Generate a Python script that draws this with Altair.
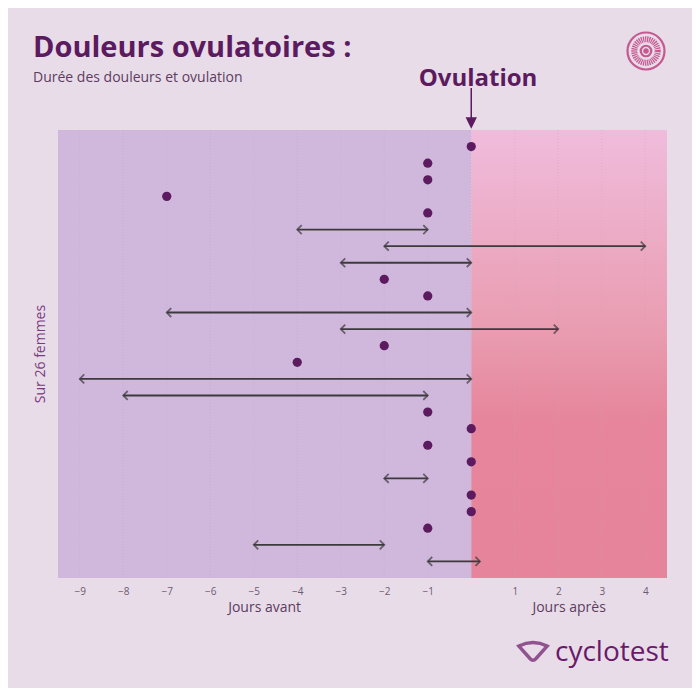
import altair as alt
import pandas as pd

# ---- data ----
rows = list(range(1, 27))
starts = [0, -1, -1, -7, -1, -4, -2, -3, -2, -1, -7, -3, -2, -4, -9, -8, -1, 0, -1, 0, -2, 0, 0, -1, -5, -1]
ends = [0, -1, -1, -7, -1, -1, 4, 0, -2, -1, 0, 2, -2, -4, 0, -1, -1, 0, -1, 0, -1, 0, 0, -1, -2, 0.2]
tick_values = [-9, -8, -7, -6, -5, -4, -3, -2, -1, 1, 2, 3, 4]
grid_values = list(range(-9, 5))

df = pd.DataFrame({"row": rows, "start": starts, "end": ends})
pts = df[df.start == df.end]
arr = df[df.start != df.end]

W, H = 609, 448
XDOM = [-9.5, 4.5]
xs = alt.Scale(domain=XDOM, nice=False, zero=False)
ys = alt.Scale(domain=[0, 27], reverse=True, nice=False, zero=False)

DARK = "#5c1a5f"
TEXT = "#5d3c60"
FONT = "Open Sans"
LOGO = "#b8236c"

bg = pd.DataFrame({"x0": [-9.5], "x1": [0.0]})
bg2 = pd.DataFrame({"x0": [0.0], "x1": [4.5]})

left_rect = alt.Chart(bg).mark_rect(color="#d0b7dc").encode(
    x=alt.X("x0:Q", scale=xs,
            axis=alt.Axis(values=tick_values, title=None, grid=False, domain=False, ticks=False,
                          labelColor="#6e5a70", labelFontSize=10, labelPadding=8, labelFont=FONT)),
    x2="x1:Q",
    y=alt.value(0), y2=alt.value(H),
)
right_rect = alt.Chart(bg2).mark_rect(
    fill=alt.Gradient(gradient="linear", x1=0, x2=0, y1=0, y2=1,
                      stops=[alt.GradientStop(offset=0, color="#f0bcdc"),
                             alt.GradientStop(offset=0.45, color="#e99cb0"),
                             alt.GradientStop(offset=0.65, color="#e6859b"),
                             alt.GradientStop(offset=1, color="#e5849a")])
).encode(x=alt.X("x0:Q", scale=xs), x2="x1:Q", y=alt.value(0), y2=alt.value(H))

grid = alt.Chart(pd.DataFrame({"g": grid_values})).mark_rule(
    color="#bfa6c9", strokeDash=[1, 2], strokeWidth=0.8, opacity=0.6
).encode(x=alt.X("g:Q", scale=xs), y=alt.value(0), y2=alt.value(H))

lines = alt.Chart(arr).mark_rule(color="#3d3a3d", strokeWidth=1.8).encode(
    x=alt.X("start:Q", scale=xs), x2="end:Q",
    y=alt.Y("row:Q", scale=ys, axis=None),
)
right_heads = alt.Chart(arr).mark_point(
    shape="M-1,-1L0,0L-1,1", size=80, filled=False, color="#3d3a3d", strokeWidth=1.8
).encode(x=alt.X("end:Q", scale=xs), y=alt.Y("row:Q", scale=ys))
left_heads = alt.Chart(arr).mark_point(
    shape="M1,-1L0,0L1,1", size=80, filled=False, color="#3d3a3d", strokeWidth=1.8
).encode(x=alt.X("start:Q", scale=xs), y=alt.Y("row:Q", scale=ys))

points = alt.Chart(pts).mark_circle(color=DARK, size=85, opacity=1).encode(
    x=alt.X("start:Q", scale=xs), y=alt.Y("row:Q", scale=ys)
)

one = pd.DataFrame({"a": [0]})

def txt(text, x, y, size, color=TEXT, weight="normal", align="left", angle=0, font=FONT, baseline="alphabetic"):
    return alt.Chart(one).mark_text(
        text=text, fontSize=size, color=color, fontWeight=weight, align=align,
        angle=angle, font=font, baseline=baseline
    ).encode(x=alt.value(x), y=alt.value(y))

title = txt("Douleurs ovulatoires :", -25, -73, 29, DARK, "bold")
subtitle = txt("Durée des douleurs et ovulation", -25, -48, 14, TEXT)
ovul = txt("Ovulation", 420, -44, 24, DARK, "bold", align="center")
ylab = txt("Sur 26 femmes", -17, 224, 14, "#7b3b80", align="center", angle=270, baseline="middle")

jours = alt.Chart(pd.DataFrame({"x": [-4.75, 2.25], "t": ["Jours avant", "Jours après"]})).mark_text(
    fontSize=14, color=TEXT, font=FONT, baseline="middle"
).encode(x=alt.X("x:Q", scale=xs), y=alt.value(478), text="t:N")

ov_arrow = alt.Chart(pd.DataFrame({"x": [0]})).mark_rule(color=DARK, strokeWidth=1.5).encode(
    x=alt.X("x:Q", scale=xs), y=alt.value(-42), y2=alt.value(-6)
)
ov_head = alt.Chart(pd.DataFrame({"x": [0]})).mark_point(
    shape="M-1,-1L1,-1L0,1Z", size=130, filled=True, color=DARK, opacity=1
).encode(x=alt.X("x:Q", scale=xs), y=alt.value(-7))

# logo top right
LX, LY = 588, -79
logo_outer = alt.Chart(one).mark_point(size=1369, filled=False, color=LOGO, strokeWidth=2.2).encode(
    x=alt.value(LX), y=alt.value(LY))
logo_mid = alt.Chart(one).mark_point(size=550, filled=False, color=LOGO, strokeWidth=6, strokeDash=[1.2, 0.8]).encode(
    x=alt.value(LX), y=alt.value(LY))
logo_in = alt.Chart(one).mark_point(size=110, filled=False, color=LOGO, strokeWidth=2.2).encode(
    x=alt.value(LX), y=alt.value(LY))
logo_dot = alt.Chart(one).mark_point(size=30, filled=True, color=LOGO, opacity=0.7).encode(
    x=alt.value(LX), y=alt.value(LY))

brand = txt("cyclotest", 497, 531, 28, "#6b1a6b")
brand_icon = alt.Chart(one).mark_point(
    shape="M-1,-0.35Q0,-0.85 1,-0.35L0.2,0.55Q0,0.75 -0.2,0.55Z", size=800, filled=False,
    color="#6b1a6b", strokeWidth=3.5
).encode(x=alt.value(475), y=alt.value(521))

chart = alt.layer(
    left_rect, right_rect, grid, lines, left_heads, right_heads, points,
    title, subtitle, ovul, ylab, jours, ov_arrow, ov_head,
    logo_outer, logo_mid, logo_in, logo_dot, brand, brand_icon
).properties(
    width=W, height=H,
    autosize=alt.AutoSizeParams(type="none"),
    padding={"left": 50, "top": 122, "right": 25, "bottom": 110},
    background="#e8dce9",
).configure_view(stroke=None)

chart.save("out.html", embed_options={"renderer": "svg", "actions": False})
